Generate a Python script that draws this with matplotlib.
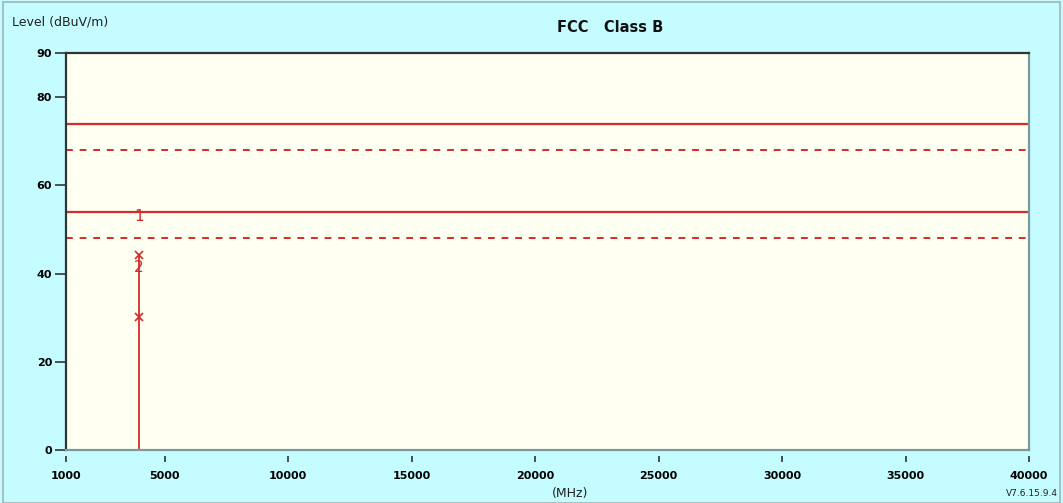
import matplotlib
matplotlib.use("Agg")
import matplotlib.pyplot as plt
from matplotlib.patches import Rectangle

# Data
limit_freqs = [1000, 40000]
limit_pk = [74, 74]
limit_pk_margin = [68, 68]
limit_av = [54, 54]
limit_av_margin = [48, 48]

signal_freq = 3950
signal_top = 44.2
marker_x_vals = [44.2, 30.2]
label_points = [("1", 53.0), ("2", 41.3)]

xticks = [1000, 5000, 10000, 15000, 20000, 25000, 30000, 35000, 40000]
yticks = [0, 20, 40, 60, 80, 90]

red = "#D42A2A"
W, H = 1063, 503
fig = plt.figure(figsize=(W / 100, H / 100), dpi=100)
fig.patch.set_facecolor("#C4FCFF")

ax = fig.add_axes([66 / W, 1 - 450 / H, (1029 - 66) / W, (450 - 53) / H])
ax.set_facecolor("#FFFFF2")
ax.set_xlim(1000, 40000)
ax.set_ylim(0, 90)

ax.plot(limit_freqs, limit_pk, color=red, lw=1.6)
ax.plot(limit_freqs, limit_pk_margin, color=red, lw=1.4, ls=(0, (3.5, 3.5)))
ax.plot(limit_freqs, limit_av, color=red, lw=1.6)
ax.plot(limit_freqs, limit_av_margin, color=red, lw=1.4, ls=(0, (3.5, 3.5)))

ax.plot([signal_freq, signal_freq], [0, signal_top], color=red, lw=1.3)
ax.plot([signal_freq] * len(marker_x_vals), marker_x_vals, ls="none",
        marker="x", color=red, ms=6, mew=1.2)
for lab, v in label_points:
    ax.text(signal_freq, v, lab, color=red, fontsize=11, ha="center", va="center")

# x ticks drawn detached from the axis, as in the reference
ax.set_xticks(xticks)
ax.set_xticklabels([str(t) for t in xticks], fontsize=8, fontweight="bold")
ax.tick_params(axis="x", direction="out", length=0, pad=15)
ax.vlines(xticks, -0.015, -0.031, transform=ax.get_xaxis_transform(),
          colors="#333333", lw=1.2, clip_on=False)

ax.set_yticks(yticks)
ax.set_yticklabels([str(t) for t in yticks], fontsize=8, fontweight="bold")
ax.tick_params(axis="y", direction="out", length=8, width=1.2, pad=2, color="#333333")

for s in ["left", "top"]:
    ax.spines[s].set_color("#333333")
    ax.spines[s].set_linewidth(1.6)
for s in ["right", "bottom"]:
    ax.spines[s].set_color("#7A9AA0")
    ax.spines[s].set_linewidth(1.6)

fig.text(12 / W, 1 - 22 / H, "Level (dBuV/m)", fontsize=9, ha="left", va="center", color="#222222")
fig.text(610 / W, 1 - 28 / H, "FCC   Class B", fontsize=10.5, fontweight="bold",
         ha="center", va="center", color="#111111")
fig.text(570 / W, 1 - 494 / H, "(MHz)", fontsize=9, ha="center", va="center", color="#222222")
fig.text(1058 / W, 1 - 493 / H, "V7.6.15.9.4", fontsize=6.5, ha="right", va="center", color="#222222")

fig.patches.append(Rectangle((3 / W, 0), 1 - 6 / W, 1 - 2 / H, transform=fig.transFigure,
                             fill=False, edgecolor="#A0B4B8", lw=1.2))

fig.savefig("out.png", dpi=100, facecolor=fig.get_facecolor())
